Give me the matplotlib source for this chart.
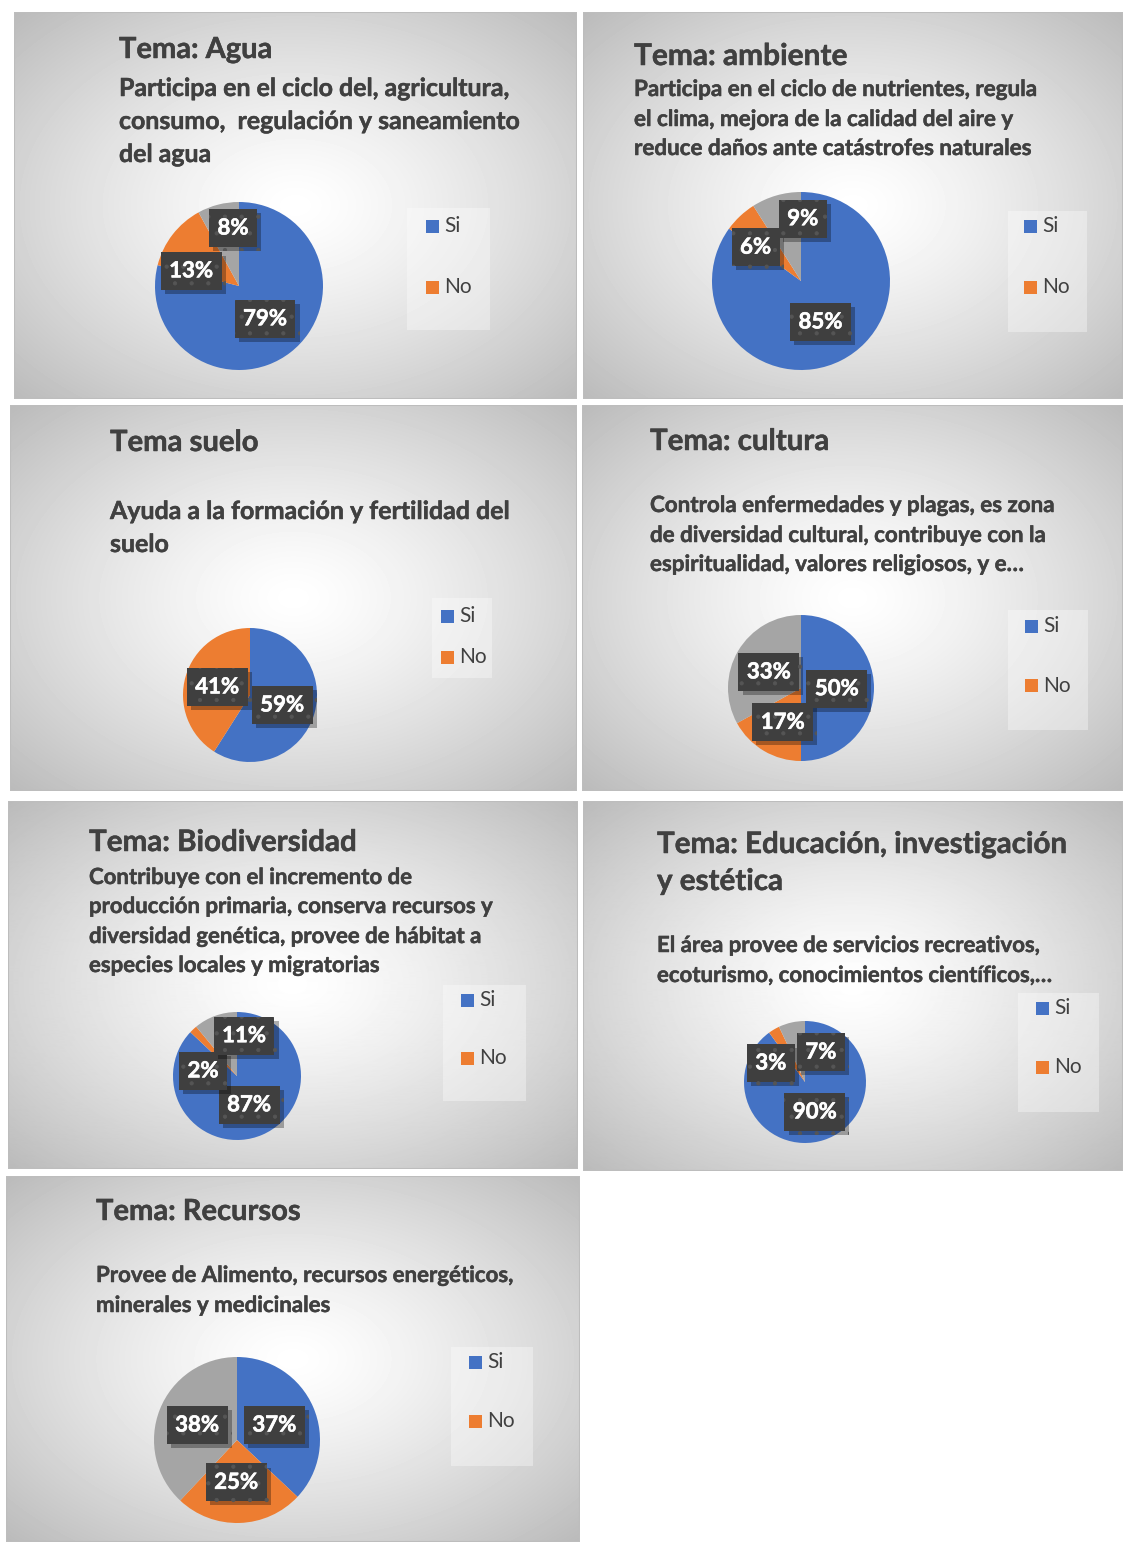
import numpy as np
import matplotlib.pyplot as plt
import matplotlib.patheffects as pe
from matplotlib.patches import Rectangle

W, H = 1124, 1542
plt.rcParams['font.family'] = ['Lato', 'DejaVu Sans']
plt.rcParams['hatch.linewidth'] = 0.6

serie = ['Si', 'No']
colores = ['#4472C4', '#ED7D31', '#A5A5A5']
gris_texto = '#404040'

# porcentajes por tema (Si, No, resto)
agua = [79, 13, 8]
ambiente = [85, 6, 9]
suelo = [59, 41]
cultura = [50, 17, 33]
biodiversidad = [87, 2, 11]
educacion = [90, 3, 7]
recursos = [37, 25, 38]

titulos = [
    ['Tema: Agua'],
    ['Tema: ambiente'],
    ['Tema suelo'],
    ['Tema: cultura'],
    ['Tema: Biodiversidad'],
    ['Tema: Educación, investigación', 'y estética'],
    ['Tema: Recursos'],
]
subtitulos = [
    ['Participa en el ciclo del, agricultura,',
     'consumo,  regulación y saneamiento',
     'del agua'],
    ['Participa en el ciclo de nutrientes, regula',
     'el clima, mejora de la calidad del aire y',
     'reduce daños ante catástrofes naturales'],
    ['Ayuda a la formación y fertilidad del',
     'suelo'],
    ['Controla enfermedades y plagas, es zona',
     'de diversidad cultural, contribuye con la',
     'espiritualidad, valores religiosos, y e…'],
    ['Contribuye con el incremento de',
     'producción primaria, conserva recursos y',
     'diversidad genética, provee de hábitat a',
     'especies locales y migratorias'],
    ['El área provee de servicios recreativos,',
     'ecoturismo, conocimientos científicos,…'],
    ['Provee de Alimento, recursos energéticos,',
     'minerales y medicinales'],
]
datos = [agua, ambiente, suelo, cultura, biodiversidad, educacion, recursos]

# disposición de cada panel (en píxeles)
paneles = [
    dict(caja=(14, 12, 577, 399), tx=119, tb=[58], tw=153,
         sb=[96, 129, 162], sw=392, centro=(239, 286), r=84,
         etq=[(0.31, -0.39), (-0.57, 0.18), (-0.07, 0.69)],
         ley=(407, 208, 490, 330), ly=[226, 287], lx=426),
    dict(caja=(583, 12, 1123, 399), tx=634, tb=[65], tw=213,
         sb=[96, 126, 155], sw=405, centro=(801, 281), r=89,
         etq=[(0.22, -0.46), (-0.51, 0.38), (0.02, 0.70)],
         ley=(1008, 211, 1087, 332), ly=[226, 287], lx=1024),
    dict(caja=(10, 405, 577, 791), tx=110, tb=[451], tw=148,
         sb=[519, 552], sw=401, centro=(250, 695), r=67,
         etq=[(0.48, -0.15), (-0.49, 0.12)],
         ley=(432, 598, 492, 678), ly=[616, 657], lx=441),
    dict(caja=(582, 405, 1123, 791), tx=650, tb=[450], tw=179,
         sb=[512, 542, 571], sw=406, centro=(801, 688), r=73,
         etq=[(0.49, -0.01), (-0.25, -0.47), (-0.44, 0.22)],
         ley=(1008, 610, 1088, 730), ly=[626, 686], lx=1025),
    dict(caja=(8, 801, 578, 1169), tx=89, tb=[851], tw=267,
         sb=[884, 913, 943, 972], sw=325, centro=(237, 1076), r=64,
         etq=[(0.19, -0.45), (-0.53, 0.08), (0.11, 0.63)],
         ley=(443, 985, 526, 1101), ly=[1000, 1058], lx=461),
    dict(caja=(583, 801, 1123, 1171), tx=657, tb=[853, 890], tw=409,
         sb=[952, 982], sw=385, centro=(805, 1082), r=61,
         etq=[(0.16, -0.49), (-0.56, 0.31), (0.26, 0.49)],
         ley=(1018, 993, 1099, 1112), ly=[1008, 1067], lx=1036),
    dict(caja=(6, 1176, 580, 1542), tx=96, tb=[1220], tw=204,
         sb=[1282, 1312], sw=420, centro=(237, 1440), r=83,
         etq=[(0.45, 0.18), (-0.01, -0.51), (-0.48, 0.18)],
         ley=(451, 1347, 533, 1466), ly=[1362, 1421], lx=469),
]

fig = plt.figure(figsize=(W / 100, H / 100), dpi=100)
fig.patch.set_facecolor('white')
renderer = fig.canvas.get_renderer()

# trazo fino para engrosar un poco las letras en negrita
grueso = [pe.withStroke(linewidth=0.35, foreground=gris_texto)]
grueso_blanco = [pe.withStroke(linewidth=0.4, foreground='white')]


def fx(x):
    return x / W


def fy(y):
    return 1 - y / H


def ajustar(t, ancho):
    bb = t.get_window_extent(renderer)
    t.set_fontsize(t.get_fontsize() * ancho / bb.width)
    return t.get_fontsize()


def fondo(x0, y0, x1, y1):
    ax = fig.add_axes([fx(x0), fy(y1), fx(x1 - x0), (y1 - y0) / H])
    w, h = int(x1 - x0), int(y1 - y0)
    xx, yy = np.meshgrid(np.linspace(-1, 1, w), np.linspace(-1, 1, h))
    d = np.sqrt(xx ** 2 + yy ** 2) / np.sqrt(2)
    v = 1 - 0.27 * d ** 1.3
    ax.imshow(v, cmap='gray', vmin=0, vmax=1, aspect='auto',
              extent=(0, 1, 0, 1), interpolation='bilinear')
    ax.add_patch(Rectangle((0, 0), 1, 1, transform=ax.transAxes, fill=False,
                           edgecolor='#bdbdbd', lw=1.5))
    ax.set_xlim(0, 1)
    ax.set_ylim(0, 1)
    ax.axis('off')


for p, tit, sub, vals in zip(paneles, titulos, subtitulos, datos):
    fondo(*p['caja'])

    # titulo y descripcion
    ts = [fig.text(fx(p['tx']), fy(b), s, fontsize=19, fontweight='bold',
                   color=gris_texto, va='baseline', ha='left')
          for s, b in zip(tit, p['tb'])]
    tam = ajustar(ts[0], p['tw'])
    for t in ts:
        t.set_fontsize(tam)
        t.set_path_effects(grueso)
    ss = [fig.text(fx(p['tx']), fy(b), s, fontsize=15, fontweight='bold',
                   color=gris_texto, va='baseline', ha='left')
          for s, b in zip(sub, p['sb'])]
    tam = ajustar(ss[0], p['sw'])
    for t in ss:
        t.set_fontsize(tam)
        t.set_path_effects(grueso)

    # leyenda
    lx0, ly0, lx1, ly1 = p['ley']
    fig.patches.append(Rectangle((fx(lx0), fy(ly1)), fx(lx1 - lx0), (ly1 - ly0) / H,
                                 transform=fig.transFigure, facecolor='white',
                                 alpha=0.35, edgecolor='none'))
    for nombre, color, yc in zip(serie, colores, p['ly']):
        fig.patches.append(Rectangle((fx(p['lx']), fy(yc + 6.5)), fx(13), 13 / H,
                                     transform=fig.transFigure, facecolor=color,
                                     edgecolor='none'))
        fig.text(fx(p['lx'] + 18), fy(yc), nombre, fontsize=15,
                 color=gris_texto, va='center', ha='left')

    # torta
    cx, cy = p['centro']
    r = p['r']
    ax = fig.add_axes([fx(cx - r), fy(cy + r), fx(2 * r), 2 * r / H])
    ax.pie(vals, colors=colores[:len(vals)], startangle=90, counterclock=False,
           radius=1, wedgeprops=dict(linewidth=0))
    ax.set_xlim(-1, 1)
    ax.set_ylim(-1, 1)
    ax.axis('off')
    for v, (dx, dy) in zip(vals, p['etq']):
        t = ax.text(dx, dy, f'{v}%', ha='center', va='center', color='white',
                    fontsize=16, fontweight='bold', clip_on=False, zorder=5,
                    bbox=dict(boxstyle='square,pad=0.38', facecolor='#3f3f3f',
                              edgecolor='#555555', linewidth=0, hatch='.'))
        t.set_path_effects(grueso_blanco)
        t.get_bbox_patch().set_path_effects([
            pe.SimplePatchShadow(offset=(3, -3), shadow_rgbFace='black', alpha=0.3),
            pe.Normal()])

fig.savefig('out.png', dpi=100)
